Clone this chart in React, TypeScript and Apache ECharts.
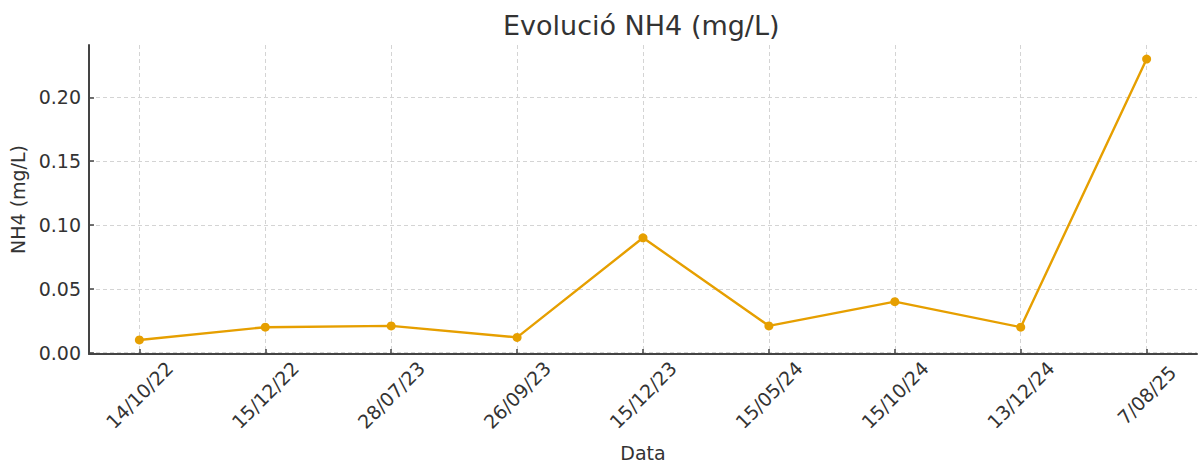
import React, { useEffect, useRef } from "react";
import * as echarts from "echarts";

const categories = ["14/10/22", "15/12/22", "28/07/23", "26/09/23", "15/12/23", "15/05/24", "15/10/24", "13/12/24", "7/08/25"];
const nh4Values = [0.01, 0.02, 0.021, 0.012, 0.09, 0.021, 0.04, 0.02, 0.23];
const yTicks = [0, 0.05, 0.1, 0.15, 0.2];

const FONT = "DejaVu Sans";
const TEXT = "#333333";
const AXIS = "#444444";

export default function App() {
  const ref = useRef<HTMLDivElement>(null);
  useEffect(() => {
    if (!ref.current) return;
    const chart = echarts.init(ref.current, null, { renderer: "svg" });
    const xIdx = categories.map((_, i) => i);
    chart.setOption({
      animation: false,
      backgroundColor: "#ffffff",
      title: {
        text: "Evolució NH4 (mg/L)",
        left: 498,
        top: 7,
        textStyle: { fontFamily: FONT, fontSize: 27, fontWeight: "normal", color: TEXT },
      },
      grid: { left: 89, right: 2, top: 45, bottom: 116 },
      xAxis: {
        type: "value",
        min: -0.4,
        max: categories.length - 1 + 0.4,
        name: "Data",
        nameLocation: "middle",
        nameGap: 89,
        nameTextStyle: { fontFamily: FONT, fontSize: 19, color: TEXT, verticalAlign: "top" },
        axisLine: { show: true, onZero: false, lineStyle: { color: AXIS, width: 2 } },
        axisTick: { show: true, inside: true, length: 5, customValues: xIdx, lineStyle: { color: AXIS, width: 1.5 } },
        axisLabel: {
          customValues: xIdx,
          rotate: 45,
          align: "center",
          verticalAlign: "middle",
          margin: 41,
          fontFamily: FONT,
          fontSize: 19,
          color: TEXT,
          formatter: (v: number) => categories[Math.round(v)] ?? "",
        },
        splitLine: { show: true, lineStyle: { color: "#d4d4d4", type: [4, 3], width: 1 } },
      },
      yAxis: {
        type: "value",
        min: -0.001,
        max: 0.241,
        name: "NH4 (mg/L)",
        nameLocation: "middle",
        nameGap: 60,
        nameTextStyle: { fontFamily: FONT, fontSize: 19, color: TEXT },
        axisLine: { show: true, onZero: false, lineStyle: { color: AXIS, width: 2 } },
        axisTick: { show: true, inside: true, length: 5, customValues: yTicks, lineStyle: { color: AXIS, width: 1.5 } },
        axisLabel: {
          customValues: yTicks,
          margin: 8,
          fontFamily: FONT,
          fontSize: 19,
          color: TEXT,
          formatter: (v: number) => v.toFixed(2),
        },
        splitLine: { show: true, lineStyle: { color: "#d4d4d4", type: [4, 3], width: 1 } },
      },
      series: [
        {
          type: "line",
          data: nh4Values.map((v, i) => [i, v]),
          symbol: "circle",
          symbolSize: 9,
          lineStyle: { color: "#E69F00", width: 2.4 },
          itemStyle: { color: "#E69F00" },
        },
      ],
    });
    return () => chart.dispose();
  }, []);
  return <div ref={ref} style={{ position: "fixed", left: 0, top: 0, width: 1199, height: 470 }} />;
}
